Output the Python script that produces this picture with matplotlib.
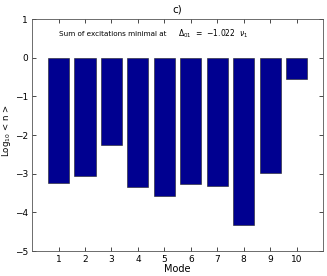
import matplotlib
matplotlib.use('Agg')
import matplotlib.pyplot as plt

modes = [1, 2, 3, 4, 5, 6, 7, 8, 9, 10]
log_n = [-3.24, -3.06, -2.26, -3.35, -3.58, -3.27, -3.32, -4.33, -2.98, -0.56]
yticks = [-5, -4, -3, -2, -1, 0, 1]

fig = plt.figure(figsize=(3.27, 2.76), dpi=100)
ax = fig.add_axes([0.098, 0.09, 0.89, 0.841])

ax.bar(modes, log_n, width=0.8, color='#000090', edgecolor='#202020', linewidth=0.4)

ax.set_xlim(0, 11)
ax.set_ylim(-5, 1)
ax.set_xticks(modes)
ax.set_yticks(yticks)
ax.set_yticklabels(['\u22125', '\u22124', '\u22123', '\u22122', '\u22121', '0', '1'])
ax.tick_params(direction='in', top=True, right=True, labelsize=6.5, length=3, width=0.5, pad=3)
for s in ax.spines.values():
    s.set_linewidth(0.6)
    s.set_color('#555555')

ax.set_xlabel('Mode', fontsize=7, labelpad=0)
ax.set_ylabel('Log$_{10}$ < n >', fontsize=6.2)
ax.yaxis.set_label_coords(-0.066, 0.52)
ax.set_title('c)', fontsize=7.5, pad=5)

ax.text(1.0, 0.55, 'Sum of excitations minimal at', fontsize=5.2)
ax.text(5.5, 0.55, '$\\Delta_{01}$  =  \u22121.022  $\\nu_1$', fontsize=5.5)

fig.savefig('out.png', dpi=100)
